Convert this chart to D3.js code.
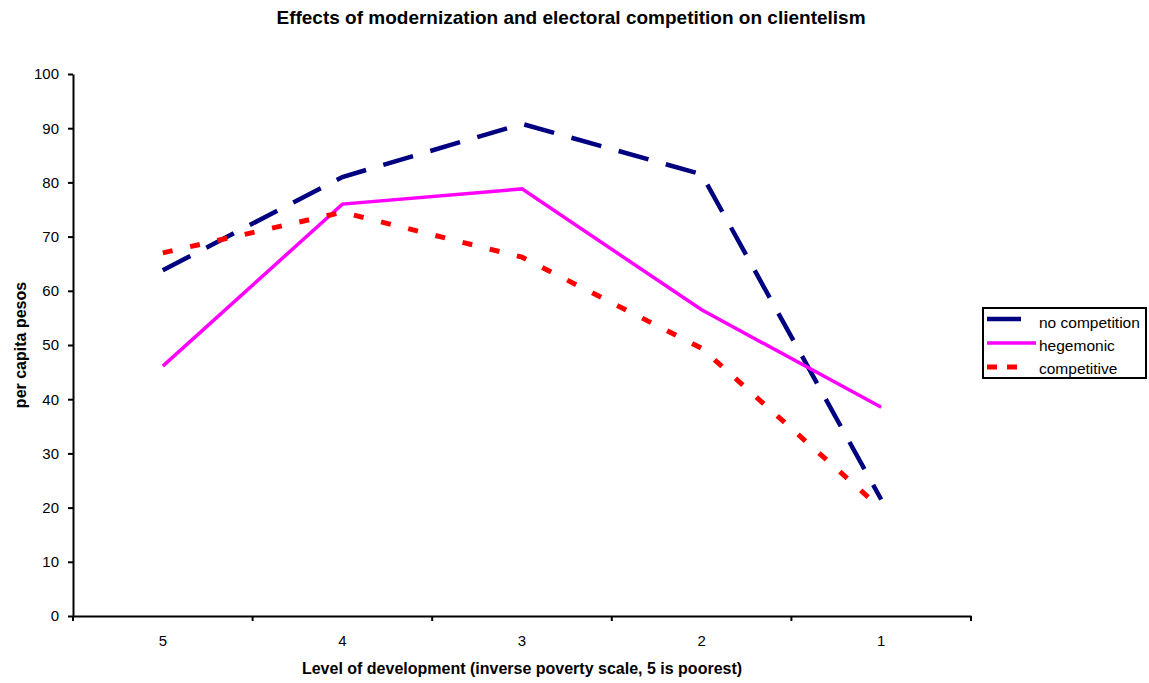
<!DOCTYPE html>
<html><head><meta charset="utf-8">
<script src="https://cdn.jsdelivr.net/npm/d3@7"></script>
<style>body{margin:0;background:#fff}svg{display:block}text{font-family:"Liberation Sans",Arial,sans-serif}</style>
</head><body><svg id="c" width="1149" height="683"></svg>
<script>
const categories = ["5","4","3","2","1"];
const noCompetition = [63.8, 81.0, 90.8, 81.5, 21.5];
const hegemonic = [46.1, 76.0, 78.8, 56.5, 38.5];
const competitive = [67.0, 74.5, 66.2, 49.4, 19.8];
const yTicks = [0,10,20,30,40,50,60,70,80,90,100];
const seriesNames = ["no competition","hegemonic","competitive"];

const svg = d3.select("#c");
const L = 73, R = 971, T = 74, B = 616;
const x = d3.scaleBand().domain(categories).range([L, R]);
const y = d3.scaleLinear().domain([0,100]).range([B, T]);

svg.append("text").attr("x", 571).attr("y", 24).attr("text-anchor","middle")
  .attr("font-weight","bold").attr("font-size",19).text("Effects of modernization and electoral competition on clientelism");

const ya = svg.append("g").attr("transform",`translate(${L},0)`)
  .call(d3.axisLeft(y).tickValues(yTicks).tickSize(5).tickSizeOuter(0).tickPadding(9));
ya.select(".domain").attr("stroke","#000").attr("stroke-width",2);
ya.selectAll(".tick line").attr("stroke","#000").attr("stroke-width",2);
ya.selectAll("text").attr("font-size",15).attr("font-family","Liberation Sans, Arial").attr("fill","#000");

const xa = svg.append("g").attr("transform",`translate(0,${B})`)
  .call(d3.axisBottom(x).tickSize(0).tickPadding(0));
xa.select(".domain").attr("stroke","#000").attr("stroke-width",2);
xa.selectAll("text").attr("font-size",15).attr("font-family","Liberation Sans, Arial").attr("fill","#000")
  .attr("y",30).attr("dy",null);
const bounds = categories.map(c => x(c)).concat([R]);
xa.selectAll(".bt").data(bounds).enter().append("line").attr("class","bt")
  .attr("x1",d=>d).attr("x2",d=>d).attr("y1",0).attr("y2",5).attr("stroke","#000").attr("stroke-width",2);

svg.append("text").attr("x", 522).attr("y", 674).attr("text-anchor","middle")
  .attr("font-weight","bold").attr("font-size",16).text("Level of development (inverse poverty scale, 5 is poorest)");
svg.append("text").attr("transform",`translate(26,${(T+B)/2}) rotate(-90)`).attr("text-anchor","middle")
  .attr("font-weight","bold").attr("font-size",16).text("per capita pesos");

const line = d3.line().x((d,i)=>x(categories[i]) + x.bandwidth()/2).y(d=>y(d));
const styles = [
  {data: noCompetition, color:"#000080", w:4.5, dash:"31,18"},
  {data: hegemonic, color:"#FF00FF", w:3.5, dash:null},
  {data: competitive, color:"#FF0000", w:5, dash:"10,18"}
];
styles.forEach(s => {
  svg.append("path").datum(s.data).attr("d", line).attr("fill","none")
    .attr("stroke", s.color).attr("stroke-width", s.w).attr("stroke-dasharray", s.dash);
});

// legend
const lg = svg.append("g");
lg.append("rect").attr("x",983).attr("y",308).attr("width",163).attr("height",70)
  .attr("fill","#fff").attr("stroke","#000").attr("stroke-width",2);
const sy = [319, 343, 367], ty = [328, 351, 374];
styles.forEach((s,i) => {
  lg.append("line").attr("x1",987).attr("x2", i==1?1036:(i==0?1021:1026)).attr("y1",sy[i]).attr("y2",sy[i])
    .attr("stroke",s.color).attr("stroke-width",s.w).attr("stroke-dasharray", i==2?"10,10":null);
  lg.append("text").attr("x",1039).attr("y",ty[i]).attr("font-size",15.5).text(seriesNames[i]);
});
</script></body></html>
